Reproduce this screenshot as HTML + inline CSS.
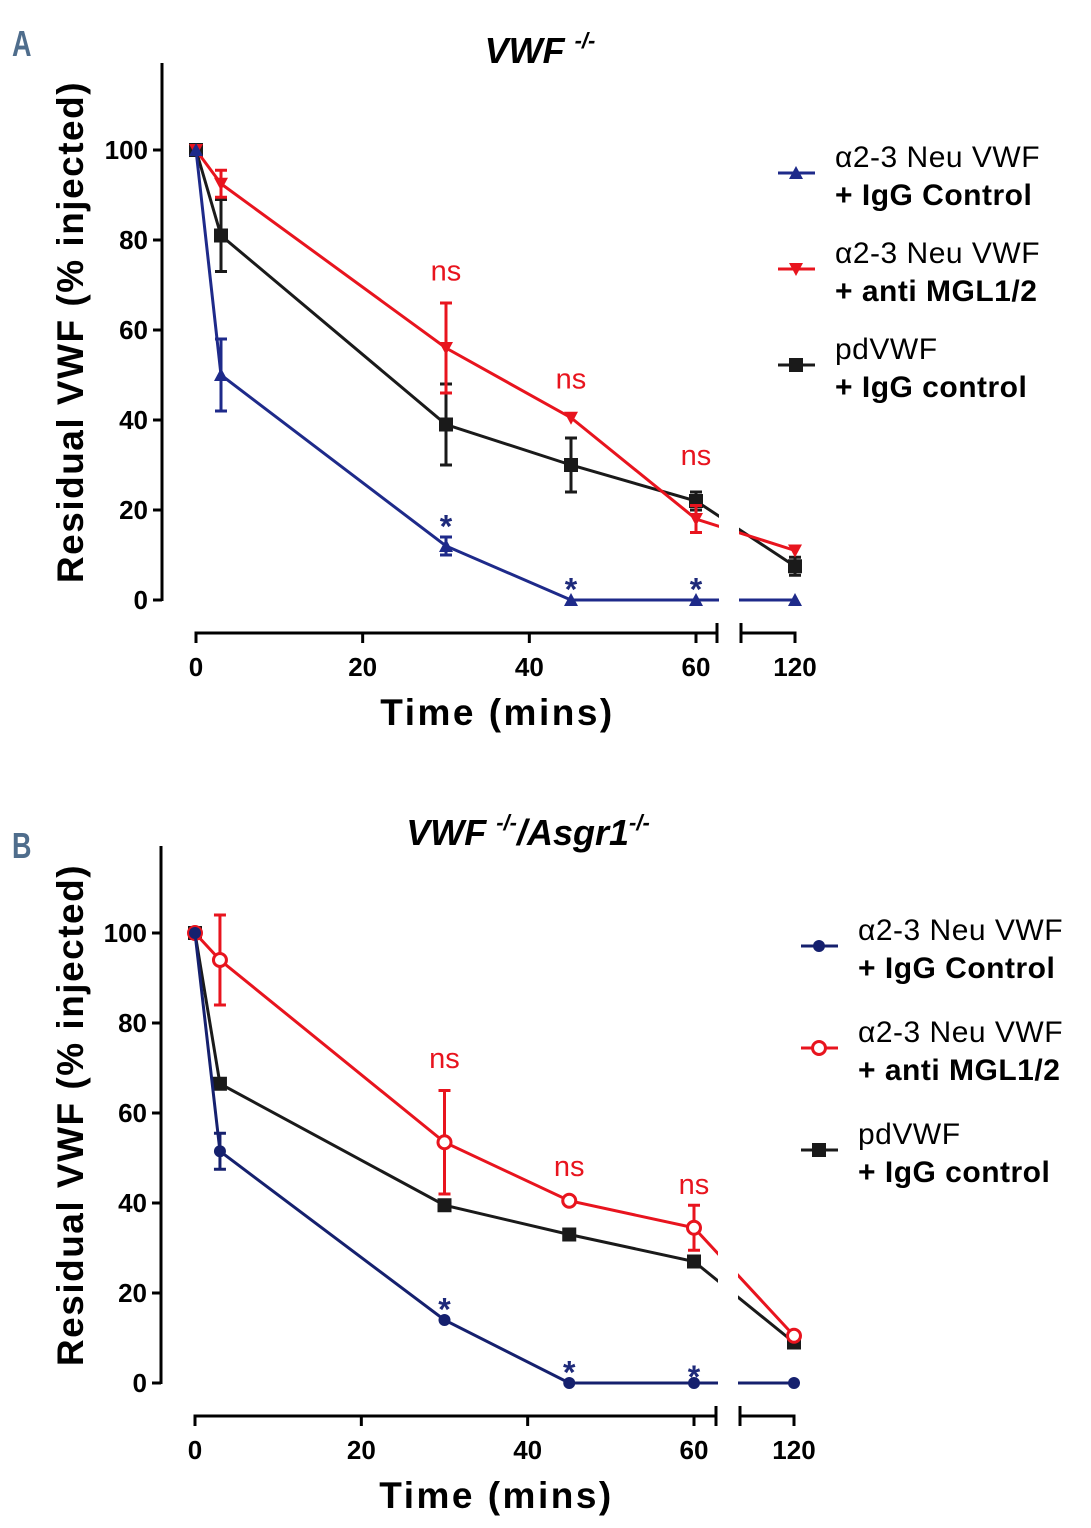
<!DOCTYPE html>
<html><head><meta charset="utf-8"><style>
body{margin:0;background:#fff;}
svg{display:block;font-family:"Liberation Sans",sans-serif;}
</style></head><body>
<svg id="s" width="1091" height="1528" viewBox="0 0 1091 1528"></svg>
<script>
const times=[0,3,30,45,60,120];
const xTicks=[0,20,40,60,120];
const yTicks=[0,20,40,60,80,100];
const aBlue=[100,50,12,0,0,0];
const aBlueErr=[0,8,2,0,0,0];
const aRed=[100,92.5,56,40.5,18,11];
const aRedErr=[0,3,10,0,3,0];
const aBlack=[100,81,39,30,22,7.5];
const aBlackErr=[0,8,9,6,2,2];
const bBlue=[100,51.5,14,0,0,0];
const bBlueErr=[0,4,0,0,0,0];
const bRed=[100,94,53.5,40.5,34.5,10.5];
const bRedErr=[0,10,11.5,0,5,0];
const bBlack=[100,66.5,39.5,33,27,9];
const bBlackErr=[0,0,0,0,0,0];
const annotTimes=[30,45,60];
const aNsY=[71,47,30];
const aStarY=[17,3,3];
const bNsY=[70,46,42];
const bStarY=[17,3,2];

const NS='http://www.w3.org/2000/svg';
const svg=document.getElementById('s');
function el(tag,attrs,parent,text){const e=document.createElementNS(NS,tag);for(const k in attrs)e.setAttribute(k,attrs[k]);if(text!==undefined)e.textContent=text;(parent||svg).appendChild(e);return e;}

function panel(cfg){
  const g=el('g',{});
  
  
  const x=t=>t<=60?cfg.x0+t*(cfg.x60-cfg.x0)/60:cfg.x120;
  const y=v=>cfg.y0-v*4.5;
  const L=el('text',{x:cfg.letterX/0.75,y:cfg.letterY,'font-size':36,'font-weight':'bold',fill:'#4f6d8c',transform:`scale(0.75,1)`},g,cfg.letter);
  
  
  const T=el('text',{x:cfg.titleX,y:cfg.titleY,'font-size':36,'font-weight':'bold','font-style':'italic','text-anchor':'middle'},g);
  
  
  T.innerHTML=cfg.title;
  const ya=el('line',{x1:cfg.yAxisX,x2:cfg.yAxisX,y1:cfg.yTop,y2:y(0)+1,stroke:'#000','stroke-width':3},g);
  
  
  yTicks.forEach(v=>{
    el('line',{x1:cfg.yAxisX-9,x2:cfg.yAxisX,y1:y(v),y2:y(v),stroke:'#000','stroke-width':3},g);
    const t=el('text',{x:cfg.yAxisX-14,y:y(v)+9,'font-size':26,'font-weight':'bold','text-anchor':'end'},g,v);
    
    
  });
  const yt=el('text',{x:0,y:0,'font-size':37,'font-weight':'bold','text-anchor':'middle','letter-spacing':'1.5',transform:`translate(83,${cfg.y0-268}) rotate(-90)`},g,'Residual VWF (% injected)');
  
  
  const ax=cfg.xAxisY;
  el('line',{x1:x(0)-1.5,x2:cfg.breakL,y1:ax,y2:ax,stroke:'#000','stroke-width':3},g);
  el('line',{x1:cfg.breakL,x2:cfg.breakL,y1:ax-10,y2:ax+10,stroke:'#000','stroke-width':3},g);
  el('line',{x1:cfg.breakR,x2:x(120)+1.5,y1:ax,y2:ax,stroke:'#000','stroke-width':3},g);
  el('line',{x1:cfg.breakR,x2:cfg.breakR,y1:ax-10,y2:ax+10,stroke:'#000','stroke-width':3},g);
  xTicks.forEach(t=>{
    el('line',{x1:x(t),x2:x(t),y1:ax,y2:ax+10,stroke:'#000','stroke-width':3},g);
    const l=el('text',{x:x(t),y:ax+43,'font-size':26,'font-weight':'bold','text-anchor':'middle'},g,t);
    
    
  });
  const xt=el('text',{x:(x(0)+x(120))/2+2,y:ax+92,'font-size':37,'font-weight':'bold','text-anchor':'middle','letter-spacing':'2.5'},g,'Time (mins)');
  
  
  const mark=(type,cx,cy,col,parent)=>{
    let m;
    if(type==='tri')m=el('polygon',{points:`${cx-7},${cy+6} ${cx+7},${cy+6} ${cx},${cy-7}`,fill:col},parent);
    else if(type==='itri')m=el('polygon',{points:`${cx-7},${cy-6} ${cx+7},${cy-6} ${cx},${cy+7}`,fill:col},parent);
    else if(type==='sq')m=el('rect',{x:cx-7,y:cy-7,width:14,height:14,fill:col},parent);
    else if(type==='dot')m=el('circle',{cx,cy,r:6,fill:col},parent);
    else m=el('circle',{cx,cy,r:6.5,fill:'#fff',stroke:col,'stroke-width':3},parent);
    return m;
  };
  cfg.series.forEach(s=>{
    const sg=el('g',{},g);
    
    
    const pts=times.map((t,i)=>`${x(t)},${y(s.vals[i])}`).join(' ');
    el('polyline',{points:pts,fill:'none',stroke:s.col,'stroke-width':3},sg);
    times.forEach((t,i)=>{
      const e=s.err[i];
      if(e>0){
        const cx=x(t);
        el('line',{x1:cx,x2:cx,y1:y(s.vals[i]+e),y2:y(s.vals[i]-e),stroke:s.col,'stroke-width':3},sg);
        el('line',{x1:cx-6,x2:cx+6,y1:y(s.vals[i]+e),y2:y(s.vals[i]+e),stroke:s.col,'stroke-width':3},sg);
        el('line',{x1:cx-6,x2:cx+6,y1:y(s.vals[i]-e),y2:y(s.vals[i]-e),stroke:s.col,'stroke-width':3},sg);
      }
      const m=mark(s.m,x(t),y(s.vals[i]),s.col,sg);
      
      
    });
  });
  el('rect',{x:cfg.breakL+2,y:cfg.yTop,width:cfg.breakR-cfg.breakL-4,height:y(0)-cfg.yTop+10,fill:'#fff'},g);
  annotTimes.forEach((t,i)=>{
    const a=el('text',{x:x(t),y:y(cfg.ns[i]),'font-size':29,fill:'#e8141e','text-anchor':'middle'},g,'ns');
    
    
    const b=el('text',{x:x(t),y:y(cfg.star[i])+14,'font-size':32,'font-weight':'bold',fill:'#1e2a7a','text-anchor':'middle'},g,'*');
    
    
  });
  cfg.legend.forEach((L,i)=>{
    const lg=el('g',{},g);
    
    
    const ly=cfg.legY+i*cfg.legGap;
    el('line',{x1:cfg.legX,x2:cfg.legX+37,y1:ly,y2:ly,stroke:L.col,'stroke-width':3},lg);
    mark(L.m,cfg.legX+18,ly,L.col,lg);
    el('text',{x:cfg.legX+57,y:ly-6,'font-size':30,'letter-spacing':'0.5'},lg,L.t1);
    el('text',{x:cfg.legX+57,y:ly+32,'font-size':30,'font-weight':'bold','letter-spacing':'0.5'},lg,L.t2);
  });
}
const BL='#1e2a8a',RD='#e8141e',BK='#1a1a1a';
panel({name:'panel-a',letter:'A',letterX:12,letterY:56,title:'VWF <tspan font-size="22" dy="-15">-/-</tspan>',titleX:540,titleY:63,
  x0:196,x60:696,x120:795,y0:600,yAxisX:162,yTop:63,xAxisY:633,breakL:717,breakR:741,ns:aNsY,star:aStarY,
  series:[{name:'series-a-pdvwf',vals:aBlack,err:aBlackErr,col:BK,m:'sq'},{name:'series-a-anti-mgl',vals:aRed,err:aRedErr,col:RD,m:'itri'},{name:'series-a-igg',vals:aBlue,err:aBlueErr,col:BL,m:'tri'}],
  legX:778,legY:173,legGap:96,
  legend:[{col:BL,m:'tri',t1:'\u03b12-3 Neu VWF',t2:'+ IgG Control'},{col:RD,m:'itri',t1:'\u03b12-3 Neu VWF',t2:'+ anti MGL1/2'},{col:BK,m:'sq',t1:'pdVWF',t2:'+ IgG control'}]});
panel({name:'panel-b',letter:'B',letterX:12,letterY:858,title:'VWF <tspan font-size="22" dy="-15">-/-</tspan><tspan dy="15">/Asgr1</tspan><tspan font-size="22" dy="-15">-/-</tspan>',titleX:528,titleY:845,
  x0:195,x60:694,x120:794,y0:1383,yAxisX:161,yTop:846,xAxisY:1416,breakL:716,breakR:740,ns:bNsY,star:bStarY,
  series:[{name:'series-b-pdvwf',vals:bBlack,err:bBlackErr,col:BK,m:'sq'},{name:'series-b-anti-mgl',vals:bRed,err:bRedErr,col:RD,m:'ring'},{name:'series-b-igg',vals:bBlue,err:bBlueErr,col:'#15206e',m:'dot'}],
  legX:801,legY:946,legGap:102,
  legend:[{col:'#15206e',m:'dot',t1:'\u03b12-3 Neu VWF',t2:'+ IgG Control'},{col:RD,m:'ring',t1:'\u03b12-3 Neu VWF',t2:'+ anti MGL1/2'},{col:BK,m:'sq',t1:'pdVWF',t2:'+ IgG control'}]});
</script>
</body></html>
